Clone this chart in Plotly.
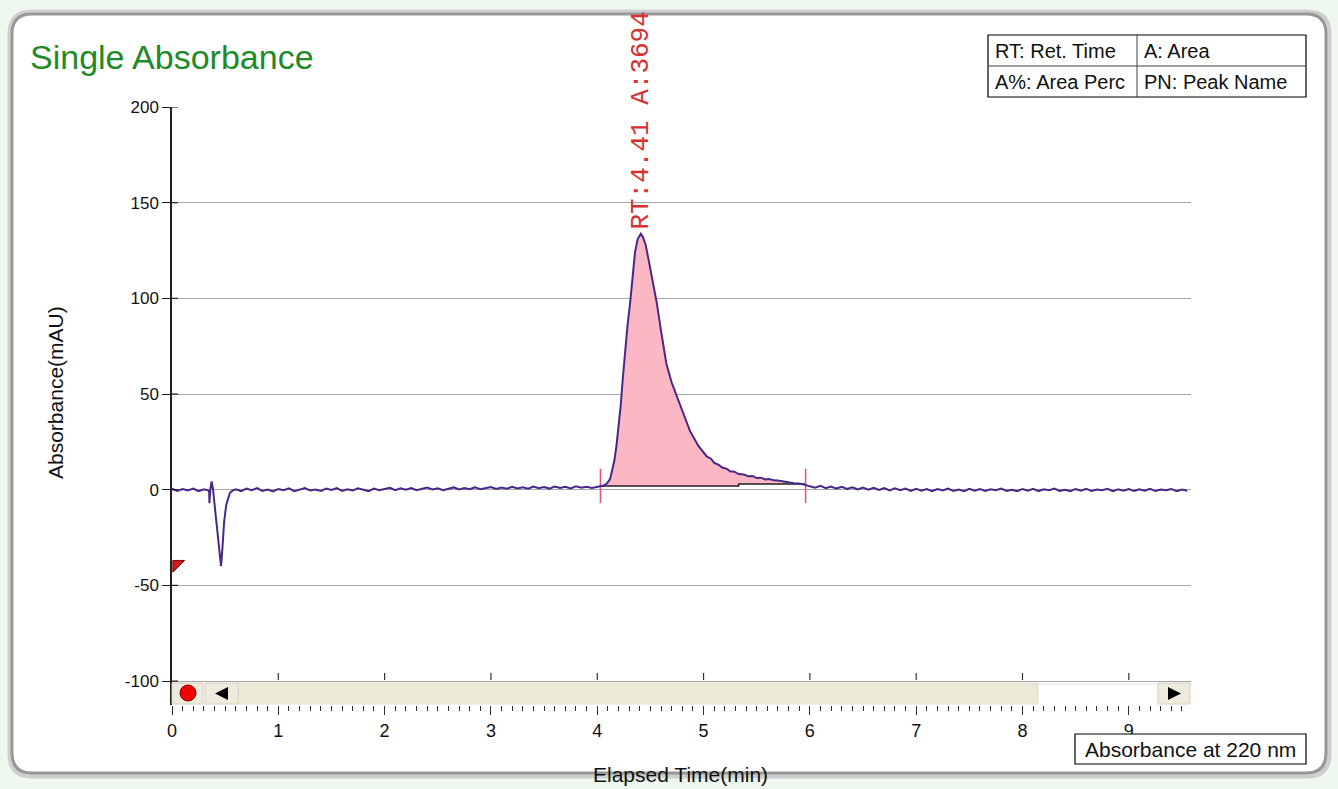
import numpy as np
import plotly.graph_objects as go

# ---------------- data ----------------
# baseline before the injection disturbance (0.00-0.30 min, every 0.05 min)
seg_a_start, seg_a_step = 0.00, 0.05
seg_a_vals = [0.5, -0.6, 0.3, -0.4, 0.6, -0.8, 0.2]

# injection disturbance
dip_t = [0.34, 0.35, 0.352, 0.36, 0.373, 0.385, 0.40, 0.42, 0.44, 0.461, 0.475,
         0.49, 0.51, 0.53, 0.545, 0.57]
dip_v = [-0.3, -1.0, -7.0, 0.0, 4.3, 0.5, -8.0, -20.0, -32.0, -40.0, -30.0,
         -17.0, -8.0, -3.5, -1.6, -0.5]

# baseline 0.60-4.00 min, every 0.05 min
seg_b_start, seg_b_step = 0.60, 0.05
seg_b_vals = [0.2, -0.7, 0.6, -0.3, 0.8, -0.6, 0.1, -0.9, 0.4, -0.3,
              0.7, -0.8, 0.2, 0.9, -0.4, 0.1, -0.7, 0.6, -0.1, 0.8,
              -0.6, 0.2, -0.4, 0.7, 0.0, -0.8, 0.6, -0.3, 0.4, 1.0,
              -0.2, 0.7, 0.0, 0.9, -0.3, 0.5, 1.1, 0.1, 0.8, -0.2,
              0.6, 1.2, 0.1, 0.9, 0.3, 1.3, 0.3, 1.0, 1.4, 0.4,
              1.2, 0.5, 1.5, 0.6, 1.3, 0.5, 1.6, 0.8, 1.4, 0.6,
              1.7, 0.9, 1.5, 0.7, 1.8, 1.0, 1.6, 0.9, 1.5]

# main peak
peak_t = [4.03, 4.06, 4.09, 4.12, 4.135, 4.16, 4.18, 4.20, 4.22, 4.24, 4.26,
          4.285, 4.31, 4.335, 4.355, 4.38, 4.41, 4.43, 4.455, 4.48, 4.52, 4.56,
          4.60, 4.65, 4.70, 4.75, 4.80, 4.87, 4.95, 5.03, 5.07, 5.10, 5.14,
          5.18, 5.22, 5.25, 5.29, 5.33, 5.38, 5.42, 5.46, 5.50, 5.54, 5.58,
          5.62, 5.66, 5.70, 5.75, 5.80, 5.85, 5.90, 5.96]
peak_v = [1.6, 2.2, 3.2, 5.5, 8.9, 15.0, 22.7, 32.0, 43.6, 58.0, 72.0,
          86.0, 98.0, 112.0, 124.0, 131.0, 133.8, 132.0, 128.0, 121.0, 110.0, 97.6,
          83.0, 66.0, 56.0, 48.8, 41.0, 31.0, 23.0, 17.4, 16.2, 14.0, 13.1,
          11.5, 10.9, 9.6, 9.4, 8.2, 7.9, 7.0, 7.2, 6.1, 6.3, 5.4,
          5.6, 4.9, 4.8, 4.3, 4.1, 3.4, 3.3, 2.4]

# baseline 6.00-9.55 min, every 0.05 min
seg_c_start, seg_c_step = 6.00, 0.05
seg_c_vals = [2.0, 1.0, 2.0, 0.8, 1.7, 0.6, 1.5, 0.4, 1.3, 0.2,
              1.1, 0.0, 1.0, -0.1, 0.8, -0.4, 0.7, -0.3, 0.6, -0.6,
              0.5, -0.5, 0.4, -0.7, 0.3, -0.4, 0.6, -0.6, 0.1, -0.8,
              0.5, -0.5, 0.4, -0.7, 0.2, -0.3, 0.6, -0.6, 0.0, -0.8,
              0.4, -0.5, 0.5, -0.7, 0.2, -0.3, 0.6, -0.6, 0.0, -0.8,
              0.4, -0.5, 0.5, -0.7, 0.1, -0.3, 0.5, -0.8, 0.2, -0.5,
              0.4, -0.7, 0.2, -0.5, 0.5, -0.7, 0.1, -0.3, 0.4, -0.8,
              0.1, -0.5]

# integration of the peak
peak_start, peak_end = 4.03, 5.96
base_t = [4.03, 5.33, 5.33, 5.96]
base_v = [2.0, 2.0, 3.0, 3.0]
peak_rt, peak_area = 4.41, 3694
peak_apex = 133.8

x_ticks = [0, 1, 2, 3, 4, 5, 6, 7, 8, 9]
y_ticks = [-100, -50, 0, 50, 100, 150, 200]
y_ticktext = ["-100", "-50", "0", "50", "100", "150", "200"]
x_range = [0, 9.585]
y_range = [-112.5, 200]

# ---------------- assemble the trace ----------------
def seg(start, step, vals):
    return [round(start + step * i, 4) for i in range(len(vals))]

t = seg(seg_a_start, seg_a_step, seg_a_vals) + dip_t + seg(seg_b_start, seg_b_step, seg_b_vals) \
    + peak_t + seg(seg_c_start, seg_c_step, seg_c_vals)
v = seg_a_vals + dip_v + seg_b_vals + peak_v + seg_c_vals
t = np.array(t)
v = np.array(v)

mask = (t >= peak_start) & (t <= peak_end)

FONT = "Liberation Sans, Arial, sans-serif"

# plot area in pixels
L, R, T, B = 172, 1191, 107, 705
W, H = R - L, B - T


def PX(px):
    return (px - L) / W


def PY(py):
    return (B - py) / H


fig = go.Figure()

# fill under the peak (between baseline and curve)
fig.add_trace(go.Scatter(x=base_t, y=base_v, mode="lines", line=dict(width=0),
                         hoverinfo="skip", showlegend=False))
fig.add_trace(go.Scatter(x=t[mask], y=v[mask], mode="lines", line=dict(width=0),
                         fill="tonexty", fillcolor="#FBB8C4", hoverinfo="skip",
                         showlegend=False))
# baseline of the integration
fig.add_trace(go.Scatter(x=base_t, y=base_v, mode="lines",
                         line=dict(color="#202020", width=1.5), showlegend=False))
# peak start / end markers
fig.add_trace(go.Scatter(x=[peak_start, peak_start, None, peak_end, peak_end],
                         y=[-7, 11, None, -7, 11], mode="lines",
                         line=dict(color="#E8507A", width=1.5), showlegend=False))
# chromatogram
fig.add_trace(go.Scatter(x=t, y=v, mode="lines",
                         line=dict(color="#47288A", width=2), showlegend=False))
# red marker on the y axis
fig.add_trace(go.Scatter(x=[0.045], y=[-39], mode="markers",
                         marker=dict(symbol="triangle-nw", size=13, color="#D21818",
                                     line=dict(color="#7A0000", width=1)),
                         cliponaxis=False, showlegend=False))

shapes = []
# outer rounded frame (shadow + frame)
fx0, fy0, fx1, fy1, rr = 12, 14, 1326, 773, 20


def rounded(x0, y0, x1, y1, r):
    return (f"M {PX(x0 + r)},{PY(y0)} L {PX(x1 - r)},{PY(y0)} Q {PX(x1)},{PY(y0)} {PX(x1)},{PY(y0 + r)} "
            f"L {PX(x1)},{PY(y1 - r)} Q {PX(x1)},{PY(y1)} {PX(x1 - r)},{PY(y1)} "
            f"L {PX(x0 + r)},{PY(y1)} Q {PX(x0)},{PY(y1)} {PX(x0)},{PY(y1 - r)} "
            f"L {PX(x0)},{PY(y0 + r)} Q {PX(x0)},{PY(y0)} {PX(x0 + r)},{PY(y0)} Z")


shapes.append(dict(type="path", xref="paper", yref="paper", layer="below",
                   path=rounded(fx0 - 2, fy0 - 2, fx1 + 3, fy1 + 3, rr + 2),
                   line=dict(color="#CFCFCF", width=5), fillcolor="#FFFFFF"))
shapes.append(dict(type="path", xref="paper", yref="paper", layer="below",
                   path=rounded(fx0, fy0, fx1, fy1, rr),
                   line=dict(color="#989898", width=3), fillcolor="#FFFFFF"))

# inner half of the y ticks (ticks cross the axis)
for yt in y_ticks:
    shapes.append(dict(type="line", xref="paper", yref="y", x0=0, x1=PX(178), y0=yt, y1=yt,
                       line=dict(color="#202020", width=1.2), layer="above"))

# scrollbar
sb_top, sb_bot = 683, 704
shapes += [
    dict(type="rect", xref="paper", yref="paper", x0=PX(172), x1=PX(1191), y0=PY(sb_bot), y1=PY(sb_top),
         line=dict(width=0), fillcolor="#FFFFFF", layer="above"),
    dict(type="line", xref="paper", yref="paper", x0=PX(1038), x1=PX(1158), y0=PY(sb_top + 1), y1=PY(sb_top + 1),
         line=dict(color="#E4E4E4", width=1), layer="above"),
    dict(type="rect", xref="paper", yref="paper", x0=PX(238), x1=PX(1038), y0=PY(sb_bot), y1=PY(sb_top),
         line=dict(color="#E0DDCC", width=1), fillcolor="#ECE9D8", layer="above"),
    dict(type="rect", xref="paper", yref="paper", x0=PX(172), x1=PX(203), y0=PY(sb_bot), y1=PY(sb_top),
         line=dict(color="#D6D2BE", width=1), fillcolor="#EEEBDC", layer="above"),
    dict(type="rect", xref="paper", yref="paper", x0=PX(205), x1=PX(238), y0=PY(sb_bot), y1=PY(sb_top),
         line=dict(color="#D6D2BE", width=1), fillcolor="#EEEBDC", layer="above"),
    dict(type="rect", xref="paper", yref="paper", x0=PX(1158), x1=PX(1190), y0=PY(sb_bot), y1=PY(sb_top),
         line=dict(color="#D6D2BE", width=1), fillcolor="#EEEBDC", layer="above"),
    dict(type="circle", xref="paper", yref="paper", x0=PX(180), x1=PX(196), y0=PY(701), y1=PY(685),
         line=dict(color="#900000", width=1), fillcolor="#F00000", layer="above"),
    dict(type="path", xref="paper", yref="paper", layer="above",
         path=f"M {PX(215)},{PY(693.5)} L {PX(228)},{PY(687)} L {PX(228)},{PY(700)} Z",
         line=dict(width=0), fillcolor="#000000"),
    dict(type="path", xref="paper", yref="paper", layer="above",
         path=f"M {PX(1181)},{PY(693.5)} L {PX(1168)},{PY(687)} L {PX(1168)},{PY(700)} Z",
         line=dict(width=0), fillcolor="#000000"),
]
# short major ticks above the scrollbar
for xt in x_ticks[1:]:
    shapes.append(dict(type="line", xref="x", yref="paper", x0=xt, x1=xt, y0=PY(680), y1=PY(673),
                       line=dict(color="#303030", width=1.2), layer="above"))

# legend tables
shapes += [
    dict(type="rect", xref="paper", yref="paper", x0=PX(988), x1=PX(1306), y0=PY(97), y1=PY(35),
         line=dict(color="#000000", width=1.2), fillcolor="#FFFFFF", layer="above"),
    dict(type="line", xref="paper", yref="paper", x0=PX(988), x1=PX(1306), y0=PY(66), y1=PY(66),
         line=dict(color="#404040", width=1), layer="above"),
    dict(type="line", xref="paper", yref="paper", x0=PX(1137), x1=PX(1137), y0=PY(97), y1=PY(35),
         line=dict(color="#404040", width=1), layer="above"),
    dict(type="rect", xref="paper", yref="paper", x0=PX(1075), x1=PX(1306), y0=PY(764), y1=PY(734),
         line=dict(color="#000000", width=1.2), fillcolor="#FFFFFF", layer="above"),
]

annotations = [
    dict(text="Single Absorbance", xref="paper", yref="paper", x=PX(28), y=PY(57),
         xanchor="left", yanchor="middle", showarrow=False,
         font=dict(family=FONT, size=34, color="#1E8A28")),
    dict(text="RT: Ret. Time", xref="paper", yref="paper", x=PX(993), y=PY(51),
         xanchor="left", yanchor="middle", showarrow=False, font=dict(family=FONT, size=20, color="#111")),
    dict(text="A: Area", xref="paper", yref="paper", x=PX(1142), y=PY(51),
         xanchor="left", yanchor="middle", showarrow=False, font=dict(family=FONT, size=20, color="#111")),
    dict(text="A%: Area Perc", xref="paper", yref="paper", x=PX(993), y=PY(82),
         xanchor="left", yanchor="middle", showarrow=False, font=dict(family=FONT, size=20, color="#111")),
    dict(text="PN: Peak Name", xref="paper", yref="paper", x=PX(1142), y=PY(82),
         xanchor="left", yanchor="middle", showarrow=False, font=dict(family=FONT, size=20, color="#111")),
    dict(text="Absorbance at 220 nm", xref="paper", yref="paper", x=PX(1190.5), y=PY(749),
         xanchor="center", yanchor="middle", showarrow=False, font=dict(family=FONT, size=21, color="#111")),
    dict(text="Elapsed Time(min)", xref="paper", yref="paper", x=PX(680), y=PY(774),
         xanchor="center", yanchor="middle", showarrow=False, font=dict(family=FONT, size=21, color="#111")),
    dict(text="Absorbance(mAU)", xref="paper", yref="paper", x=PX(55), y=PY(393),
         xanchor="center", yanchor="middle", textangle=-90, showarrow=False,
         font=dict(family=FONT, size=21, color="#111")),
    dict(text=f"RT:{peak_rt:.2f} A:{peak_area}", xref="x", yref="y", x=peak_rt, y=peak_apex + 1,
         xanchor="center", yanchor="bottom", textangle=-90, showarrow=False,
         font=dict(family="Liberation Mono, Courier New, monospace", size=26, color="#D83030")),
]

fig.update_layout(
    width=1338, height=789,
    margin=dict(l=L, r=1338 - R, t=T, b=789 - B),
    paper_bgcolor="#EEF8EE",
    plot_bgcolor="rgba(0,0,0,0)",
    shapes=shapes,
    annotations=annotations,
    showlegend=False,
    xaxis=dict(range=x_range, tickvals=x_ticks, ticktext=[str(x) for x in x_ticks],
               ticks="outside", ticklen=9, tickwidth=1.2, tickcolor="#303030",
               minor=dict(dtick=0.1, ticks="outside", ticklen=5, tickwidth=1, tickcolor="#303030",
                          showgrid=False),
               showgrid=False, zeroline=False, showline=False,
               tickfont=dict(family=FONT, size=18, color="#111")),
    yaxis=dict(range=y_range, tickvals=y_ticks, ticktext=y_ticktext, ticks="outside", ticklen=8,
               tickwidth=1.2, tickcolor="#202020", showgrid=True, gridcolor="#A8A8A8", gridwidth=1,
               zeroline=False, showline=True, linecolor="#202020", linewidth=1.5,
               tickfont=dict(family=FONT, size=17, color="#111")),
)

fig.write_html("out.html", config={"displayModeBar": False},
               post_script="document.body.style.margin='0';document.body.style.overflow='hidden';")
